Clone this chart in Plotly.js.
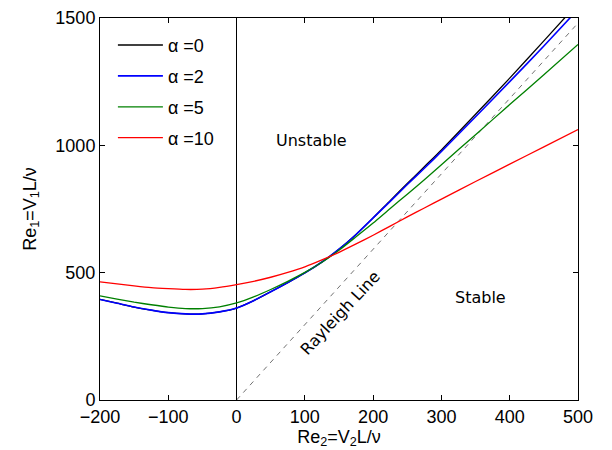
<!DOCTYPE html>
<html>
<head>
<meta charset="utf-8">
<script src="https://cdn.plot.ly/plotly-3.0.1.min.js"></script>
<style>html,body{margin:0;padding:0;background:#fff;}#plot{width:612px;height:450px;}</style>
</head>
<body>
<div id="plot"></div>
<script>
// Data
var re2 = [-200,-175,-150,-125,-100,-75,-50,-25,0,25,50,75,100,125,150,175,200,225,250,275,300,350,400,450,500];
var alpha0 = [395,380,365,353,343,338,338,346,361,390,425,461,499,542,592,650,715,783,850,916,982,1122,1264,1410,1558];
var alpha2 = [395,380,365,353,343,338,338,346,361,390,425,461,499,542,592,650,715,780,846,910,976,1112,1250,1390,1534];
var alpha5 = [409,396,384,374,365,359,359,366,381,405,434,466,501,541,588,641,695,752,808,865,924,1042,1160,1277,1396];
var alpha10 = [464,456,448,441,437,434,435,442,453,466,482,501,523,550,580,613,647,683,719,754,789,858,926,994,1062];
var rayleighX = [0, 500];
var rayleighY = [0, 1480];
var seriesNames = ['\u03b1 =0', '\u03b1 =2', '\u03b1 =5', '\u03b1 =10'];
var xTicks = [-200,-100,0,100,200,300,400,500];
var yTicks = [0,500,1000,1500];

var colors = ['#000000', '#0000ff', '#008000', '#ff0000'];
var widths = [1.3, 1.6, 1.3, 1.3];
var series = [alpha0, alpha2, alpha5, alpha10];

var traces = [{
  x: rayleighX, y: rayleighY, mode: 'lines', showlegend: false,
  line: {color: '#333333', width: 0.7, dash: '5px,5px'}, hoverinfo: 'skip'
}];
series.forEach(function (s, i) {
  traces.push({
    x: re2, y: s, mode: 'lines', name: seriesNames[i], legendgroup: 'g' + i,
    line: {color: colors[i], width: widths[i], shape: 'spline', smoothing: 0.6}
  });
});

var axisFont = {family: 'Liberation Sans, Arial, Helvetica, sans-serif', size: 18, color: '#000'};
var noteFont = {family: 'DejaVu Sans, sans-serif', size: 16, color: '#000'};

var layout = {
  width: 612, height: 450,
  margin: {l: 100, r: 34, t: 17.5, b: 50, pad: 0},
  paper_bgcolor: '#fff', plot_bgcolor: '#fff',
  font: axisFont,
  showlegend: true,
  legend: {
    x: 0.027, y: 0.977, xanchor: 'left', yanchor: 'top',
    bgcolor: 'rgba(0,0,0,0)', borderwidth: 0,
    font: axisFont, tracegroupgap: 4.5, itemwidth: 45
  },
  xaxis: {
    range: [-200, 500], tickvals: xTicks, ticks: 'inside', ticklen: 5,
    tickcolor: '#000', linecolor: '#000', linewidth: 1, showline: true, mirror: 'ticks',
    showgrid: false, zeroline: true, zerolinecolor: '#000', zerolinewidth: 1,
    tickfont: axisFont,
    title: {text: 'Re<sub>2</sub>=V<sub>2</sub>L/\u03bd', font: axisFont, standoff: 4}
  },
  yaxis: {
    range: [0, 1500], tickvals: yTicks, ticks: 'inside', ticklen: 5,
    tickcolor: '#000', linecolor: '#000', linewidth: 1, showline: true, mirror: 'ticks',
    showgrid: false, zeroline: false,
    tickfont: axisFont,
    title: {text: 'Re<sub>1</sub>=V<sub>1</sub>L/\u03bd', font: axisFont, standoff: 14}
  },
  annotations: [
    {x: 110, y: 1020, xref: 'x', yref: 'y', text: 'Unstable', showarrow: false, font: noteFont},
    {x: 357, y: 404, xref: 'x', yref: 'y', text: 'Stable', showarrow: false, font: noteFont},
    {x: 152, y: 345, xref: 'x', yref: 'y', text: 'Rayleigh Line', showarrow: false, font: noteFont, textangle: -47}
  ]
};

Plotly.newPlot('plot', traces, layout, {displayModeBar: false, staticPlot: true});
</script>
</body>
</html>
